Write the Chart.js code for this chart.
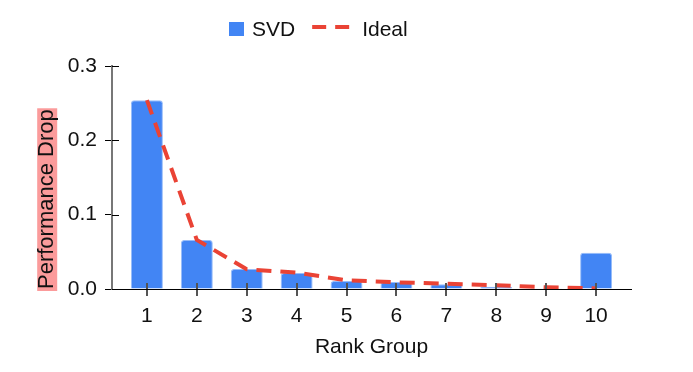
<!DOCTYPE html>
<html>
<head>
<meta charset="utf-8">
<script src="https://cdn.jsdelivr.net/npm/chart.js@4.4.1/dist/chart.umd.min.js"></script>
<style>
  html, body { margin: 0; padding: 0; background: #fff; }
  #wrap { width: 693px; height: 372px; }
</style>
</head>
<body>
<div id="wrap"><canvas id="dropChart"></canvas></div>
<script>
// Chart data
const rankGroups = ['1', '2', '3', '4', '5', '6', '7', '8', '9', '10'];
const svdDrop = [0.254, 0.066, 0.027, 0.0215, 0.0108, 0.0094, 0.0063, 0.0031, 0.001, 0.0489];
const idealDrop = [0.254, 0.066, 0.0265, 0.022, 0.0117, 0.009, 0.0071, 0.005, 0.0023, 0.001];
const yTicks = [0, 0.1, 0.2, 0.3];

const FONT = "'Liberation Sans', Arial, sans-serif";
const BLUE = '#4285F4';
const RED = '#EA4335';
const Y_TITLE_PAD = 34;
const Y_TITLE_SIZE = 22;

// pink box behind the y axis title
const titleBgPlugin = {
    id: 'titleBg',
    beforeDraw(chart) {
        const s = chart.scales.y;
        const ctx = chart.ctx;
        ctx.save();
        ctx.font = Y_TITLE_SIZE + 'px ' + FONT;
        const w = ctx.measureText(s.options.title.text).width;
        const cx = s.left + Y_TITLE_PAD + Y_TITLE_SIZE * 0.6;
        ctx.fillStyle = '#fb9b9b';
        ctx.fillRect(cx - 10, s.bottom - w - 1, 20, w + 3);
        ctx.restore();
    }
};

// tick marks cross the axis, so draw the inner half too
const innerTicksPlugin = {
    id: 'innerTicks',
    afterDatasetsDraw(chart) {
        const { ctx, chartArea, scales: { x, y } } = chart;
        ctx.save();
        ctx.strokeStyle = '#555';
        ctx.lineWidth = 2;
        ctx.beginPath();
        x.ticks.forEach(t => {
            const px = Math.round(x.getPixelForValue(t.value));
            ctx.moveTo(px, chartArea.bottom);
            ctx.lineTo(px, chartArea.bottom - 6);
        });
        ctx.stroke();
        ctx.strokeStyle = '#000';
        ctx.lineWidth = 1;
        ctx.beginPath();
        y.ticks.forEach(t => {
            const py = Math.round(y.getPixelForValue(t.value)) + 0.5;
            ctx.moveTo(chartArea.left, py);
            ctx.lineTo(chartArea.left + 7, py);
        });
        ctx.stroke();
        ctx.restore();
    }
};

// legend: square for the bars, dashed stroke for the line
const legendPlugin = {
    id: 'simpleLegend',
    afterDraw(chart) {
        const ctx = chart.ctx;
        const [bars, line] = chart.data.datasets;
        ctx.save();
        ctx.font = '21px ' + FONT;
        ctx.textBaseline = 'alphabetic';
        let x = 229;
        ctx.fillStyle = bars.backgroundColor;
        ctx.fillRect(x, 22, 15, 14);
        x += 23;
        ctx.fillStyle = '#111';
        ctx.fillText(bars.label, x, 35.5);
        x += ctx.measureText(bars.label).width + 17;
        ctx.strokeStyle = line.borderColor;
        ctx.lineWidth = 4;
        ctx.setLineDash([14, 9]);
        ctx.beginPath();
        ctx.moveTo(x, 27);
        ctx.lineTo(x + 37, 27);
        ctx.stroke();
        ctx.setLineDash([]);
        x += 37 + 13;
        ctx.fillText(line.label, x, 35.5);
        ctx.restore();
    }
};

const ctx = document.getElementById('dropChart').getContext('2d');
const dropChart = new Chart(ctx, {
    type: 'bar',
    data: {
        datasets: [{
            label: 'SVD',
            data: rankGroups.map((g, i) => ({ x: Number(g), y: svdDrop[i] })),
            backgroundColor: BLUE,
            borderColor: 'rgba(66, 133, 244, 0.55)',
            borderWidth: 1,
            borderRadius: 3,
            barPercentage: 0.8,
            categoryPercentage: 0.8,
            order: 1
        }, {
            type: 'line',
            label: 'Ideal',
            data: rankGroups.map((g, i) => ({ x: Number(g), y: idealDrop[i] })),
            borderColor: RED,
            borderWidth: 4,
            borderDash: [15, 9],
            pointRadius: 0,
            tension: 0,
            fill: false,
            order: 0
        }]
    },
    options: {
        responsive: true,
        maintainAspectRatio: false,
        animation: false,
        events: [],
        layout: { padding: { top: 66, right: 62, bottom: 0, left: 0 } },
        plugins: {
            legend: { display: false },
            tooltip: { enabled: false }
        },
        scales: {
            x: {
                type: 'linear',
                min: 0.3,
                max: 10.7,
                offset: false,
                afterBuildTicks: s => { s.ticks = rankGroups.map(g => ({ value: Number(g) })); },
                afterFit: s => { s.height = 83; },
                ticks: {
                    font: { family: FONT, size: 21 },
                    color: '#111',
                    padding: 8,
                    autoSkip: false,
                    maxRotation: 0,
                    callback: (v, i) => rankGroups[i]
                },
                grid: { offset: false, drawOnChartArea: false, tickLength: 7, color: '#555', lineWidth: 2 },
                border: { color: '#000', width: 1 },
                title: {
                    display: true,
                    text: 'Rank Group',
                    font: { family: FONT, size: 21 },
                    color: '#111',
                    padding: { top: 0, bottom: 12 }
                }
            },
            y: {
                min: 0,
                max: 0.3,
                afterBuildTicks: s => { s.ticks = yTicks.map(v => ({ value: v })); },
                afterFit: s => { s.width = 112; },
                ticks: {
                    font: { family: FONT, size: 21 },
                    color: '#111',
                    padding: 8,
                    callback: v => v.toFixed(1)
                },
                grid: { drawOnChartArea: false, tickLength: 7, color: '#000', lineWidth: 1 },
                border: { color: '#777', width: 2 },
                title: {
                    display: true,
                    text: 'Performance Drop',
                    align: 'start',
                    font: { family: FONT, size: Y_TITLE_SIZE },
                    color: '#111',
                    padding: { top: Y_TITLE_PAD, bottom: 0 }
                }
            }
        }
    },
    plugins: [titleBgPlugin, innerTicksPlugin, legendPlugin]
});
</script>
</body>
</html>
